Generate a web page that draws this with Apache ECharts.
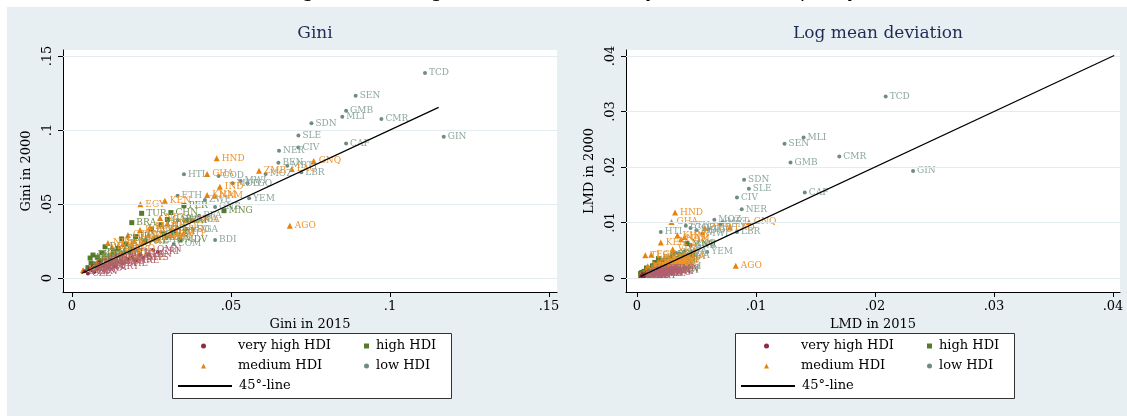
<!DOCTYPE html>
<html><head><meta charset="utf-8">
<script src="https://cdn.jsdelivr.net/npm/echarts@6/dist/echarts.min.js"></script>
<style>html,body{margin:0;padding:0;background:#fff}#c{width:1127px;height:416px}</style>
</head><body><div id="c"></div>
<script>
// ---------- tick labels ----------
const giniTicks = [0, 0.05, 0.1, 0.15];
const lmdTicks = [0, 0.01, 0.02, 0.03, 0.04];
const panelTitles = ['Gini', 'Log mean deviation'];
const xNames = ['Gini in 2015', 'LMD in 2015'];
const yNames = ['Gini in 2000', 'LMD in 2000'];
const groupNames = ['very high HDI', 'high HDI', 'medium HDI', 'low HDI'];
const lineName = '45\u00b0-line';

// ---------- Gini: [2015, 2000, code] ----------
const giniVeryHigh = [
[0.0040,0.0045,'SVK'],[0.0050,0.0030,'CZE'],[0.0060,0.0050,'SVN'],[0.0070,0.0040,'HRV'],
[0.0080,0.0060,'DEU'],[0.0090,0.0075,'FRA'],[0.0100,0.0085,'ESP'],[0.0110,0.0070,'ITA'],
[0.0125,0.0095,'USA'],[0.0135,0.0080,'URY'],[0.0150,0.0110,'ARG'],[0.0160,0.0100,'CHL'],
[0.0175,0.0125,'RUS'],[0.0190,0.0140,'SAU'],[0.0200,0.0120,'ARE'],[0.0215,0.0155,'KAZ'],
[0.0225,0.0135,'MYS'],[0.0240,0.0160,'PAN'],[0.0255,0.0190,'OMN'],[0.0270,0.0175,'CRI'],
[0.0065,0.0080,'POL'],[0.0085,0.0105,'HUN'],[0.0105,0.0120,'ROU'],[0.0120,0.0130,'BGR'],
[0.0140,0.0150,'GRC'],[0.0055,0.0065,'PRT'],[0.0180,0.0170,'LTU']];
const giniHigh = [
[0.0478,0.0455,'MNG'],[0.0352,0.0489,'PER'],[0.0219,0.0437,'TUR'],[0.0311,0.0442,'CHN'],
[0.0340,0.0257,'MDV'],[0.0188,0.0374,'BRA'],[0.0066,0.0155,'LKA'],[0.0057,0.0135,'ALB'],
[0.0104,0.0211,'DOM'],[0.0156,0.0264,'COL'],[0.0130,0.0180,'MEX'],[0.0250,0.0330,'ECU'],
[0.0280,0.0360,'THA'],[0.0200,0.0280,'IRN'],[0.0120,0.0150,'DZA'],[0.0090,0.0120,'TUN'],
[0.0075,0.0095,'JOR'],[0.0145,0.0200,'LBN'],[0.0170,0.0230,'GEO'],[0.0230,0.0250,'AZE'],
[0.0060,0.0100,'UKR'],[0.0050,0.0070,'BLR'],[0.0110,0.0110,'SRB'],[0.0160,0.0165,'MKD'],
[0.0290,0.0300,'VEN'],[0.0320,0.0310,'PRY'],[0.0265,0.0270,'BWA'],[0.0360,0.0390,'ZAF'],
[0.0300,0.0395,'GAB'],[0.0080,0.0140,'ARM'],[0.0095,0.0170,'JAM']];
const giniMedium = [
[0.0455,0.0809,'HND'],[0.0425,0.0703,'GHA'],[0.0588,0.0725,'ZMB'],[0.0691,0.0736,'LAO'],
[0.0760,0.0790,'GNQ'],[0.0465,0.0617,'IND'],[0.0425,0.0561,'KHM'],[0.0448,0.0556,'NAM'],
[0.0215,0.0498,'EGY'],[0.0292,0.0522,'KEN'],[0.0685,0.0353,'AGO'],[0.0176,0.0290,'GTM'],
[0.0214,0.0324,'BOL'],[0.0277,0.0405,'NIC'],[0.0300,0.0370,'SLV'],[0.0245,0.0345,'MAR'],
[0.0151,0.0169,'PAK'],[0.0208,0.0135,'SWZ'],[0.0126,0.0210,'BGD'],[0.0035,0.0054,'KGZ'],
[0.0113,0.0236,'NPL'],[0.0223,0.0243,'PHL'],[0.0308,0.0290,'IDN'],[0.0267,0.0270,'VNM'],
[0.0330,0.0345,'COG'],[0.0380,0.0395,'NGA'],[0.0160,0.0230,'TJK'],[0.0190,0.0200,'IRQ'],
[0.0240,0.0290,'MMR'],[0.0100,0.0150,'CPV'],[0.0140,0.0120,'SYR'],[0.0350,0.0300,'STP'],
[0.0080,0.0110,'BTN'],[0.0195,0.0250,'GUY']];
const giniLow = [
[0.1110,0.1385,'TCD'],[0.0892,0.1232,'SEN'],[0.0862,0.1130,'GMB'],[0.0850,0.1090,'MLI'],
[0.0973,0.1074,'CMR'],[0.0753,0.1045,'SDN'],[0.0712,0.0962,'SLE'],[0.1169,0.0955,'GIN'],
[0.0862,0.0908,'CAF'],[0.0712,0.0881,'CIV'],[0.0651,0.0860,'NER'],[0.0649,0.0779,'BEN'],
[0.0677,0.0759,'MRT'],[0.0721,0.0714,'LBR'],[0.0609,0.0703,'MOZ'],[0.0352,0.0701,'HTI'],
[0.0461,0.0689,'COD'],[0.0505,0.0640,'MDG'],[0.0552,0.0640,'TGO'],[0.0530,0.0655,'MWI'],
[0.0557,0.0539,'YEM'],[0.0332,0.0556,'ETH'],[0.0418,0.0527,'ZWE'],[0.0380,0.0329,'UGA'],
[0.0450,0.0257,'BDI'],[0.0333,0.0392,'SSD'],[0.0376,0.0392,'RWA'],[0.0255,0.0257,'TZA'],
[0.0298,0.0270,'AFG'],[0.0360,0.0330,'LSO'],[0.0280,0.0310,'PNG'],[0.0400,0.0420,'BFA'],
[0.0320,0.0230,'COM'],[0.0450,0.0480,'GNB']];
const giniLine = [[0.003,0.003],[0.1153,0.1153]];

// ---------- LMD: [2015, 2000, code] ----------
const lmdVeryHigh = [
[0.0003,0.0002,'SVK'],[0.0004,0.0003,'CZE'],[0.0005,0.0004,'SVN'],[0.0006,0.0002,'HRV'],
[0.0007,0.0005,'DEU'],[0.0008,0.0006,'FRA'],[0.0009,0.0007,'ESP'],[0.0010,0.0004,'ITA'],
[0.0012,0.0008,'USA'],[0.0013,0.0005,'URY'],[0.0015,0.0009,'ARG'],[0.0016,0.0007,'CHL'],
[0.0018,0.0010,'RUS'],[0.0020,0.0012,'SAU'],[0.0021,0.0008,'ARE'],[0.0023,0.0013,'KAZ'],
[0.0024,0.0010,'MYS'],[0.0026,0.0014,'PAN'],[0.0028,0.0016,'OMN'],[0.0030,0.0012,'CRI'],
[0.0005,0.0007,'POL'],[0.0008,0.0010,'HUN'],[0.0010,0.0012,'ROU'],[0.0012,0.0013,'BGR'],
[0.0014,0.0015,'GRC'],[0.0004,0.0005,'PRT'],[0.0019,0.0017,'LTU']];
const lmdHigh = [
[0.0042,0.0062,'MNG'],[0.0030,0.0042,'PER'],[0.0018,0.0035,'TUR'],[0.0027,0.0036,'CHN'],
[0.0030,0.0015,'MDV'],[0.0015,0.0028,'BRA'],[0.0004,0.0010,'LKA'],[0.0003,0.0008,'ALB'],
[0.0008,0.0018,'DOM'],[0.0013,0.0022,'COL'],[0.0011,0.0014,'MEX'],[0.0022,0.0027,'ECU'],
[0.0025,0.0031,'THA'],[0.0017,0.0024,'IRN'],[0.0010,0.0011,'DZA'],[0.0007,0.0009,'TUN'],
[0.0006,0.0007,'JOR'],[0.0012,0.0017,'LBN'],[0.0014,0.0019,'GEO'],[0.0020,0.0021,'AZE'],
[0.0005,0.0008,'UKR'],[0.0004,0.0005,'BLR'],[0.0009,0.0009,'SRB'],[0.0014,0.0013,'MKD'],
[0.0026,0.0025,'VEN'],[0.0029,0.0024,'PRY'],[0.0024,0.0020,'BWA'],[0.0034,0.0033,'ZAF'],
[0.0028,0.0033,'GAB'],[0.0006,0.0012,'ARM'],[0.0008,0.0014,'JAM']];
const lmdMedium = [
[0.0032,0.0118,'HND'],[0.0029,0.0101,'GHA'],[0.0057,0.0090,'ZMB'],[0.0078,0.0091,'LAO'],
[0.0094,0.0101,'GNQ'],[0.0040,0.0074,'IND'],[0.0034,0.0077,'KHM'],[0.0037,0.0070,'NAM'],
[0.0012,0.0042,'EGY'],[0.0020,0.0064,'KEN'],[0.0083,0.0022,'AGO'],[0.0014,0.0025,'GTM'],
[0.0018,0.0030,'BOL'],[0.0023,0.0037,'NIC'],[0.0026,0.0034,'SLV'],[0.0021,0.0031,'MAR'],
[0.0012,0.0015,'PAK'],[0.0016,0.0011,'SWZ'],[0.0010,0.0019,'BGD'],[0.0003,0.0005,'KGZ'],
[0.0009,0.0021,'NPL'],[0.0019,0.0022,'PHL'],[0.0027,0.0026,'IDN'],[0.0022,0.0024,'VNM'],
[0.0030,0.0031,'COG'],[0.0035,0.0038,'NGA'],[0.0013,0.0020,'TJK'],[0.0016,0.0018,'IRQ'],
[0.0020,0.0026,'MMR'],[0.0008,0.0013,'CPV'],[0.0011,0.0010,'SYR'],[0.0031,0.0027,'STP'],
[0.0006,0.0009,'BTN'],[0.0017,0.0023,'GUY'],[0.0007,0.0041,'TLS'],[0.0030,0.0052,'VUT']];
const lmdLow = [
[0.0209,0.0327,'TCD'],[0.0140,0.0253,'MLI'],[0.0124,0.0242,'SEN'],[0.0170,0.0219,'CMR'],
[0.0129,0.0208,'GMB'],[0.0232,0.0193,'GIN'],[0.0090,0.0177,'SDN'],[0.0094,0.0161,'SLE'],
[0.0141,0.0154,'CAF'],[0.0084,0.0145,'CIV'],[0.0088,0.0124,'NER'],[0.0065,0.0105,'MOZ'],
[0.0072,0.0101,'MRT'],[0.0070,0.0097,'BEN'],[0.0084,0.0083,'LBR'],[0.0020,0.0083,'HTI'],
[0.0041,0.0094,'ETH'],[0.0045,0.0090,'COD'],[0.0050,0.0086,'MDG'],[0.0060,0.0088,'TGO'],
[0.0055,0.0080,'MWI'],[0.0059,0.0047,'YEM'],[0.0045,0.0060,'ZWE'],[0.0040,0.0040,'UGA'],
[0.0034,0.0013,'BDI'],[0.0033,0.0045,'SSD'],[0.0036,0.0044,'RWA'],[0.0025,0.0025,'TZA'],
[0.0029,0.0029,'AFG'],[0.0034,0.0036,'LSO'],[0.0027,0.0034,'PNG'],[0.0040,0.0048,'BFA'],
[0.0031,0.0021,'COM'],[0.0045,0.0058,'GNB']];
const lmdLine = [[0.0003,0.0003],[0.0401,0.0401]];

// ---------- styling ----------
const SERIF = '"DejaVu Serif", serif';
const styles = {
  'very high HDI': {symbol:'circle', size:4, color:'#8c2d40', label:'#b0606e'},
  'high HDI':      {symbol:'rect', size:5, color:'#567a2c', label:'#6f8d48'},
  'medium HDI':    {symbol:'triangle', size:6, color:'#e8820e', label:'#f0942c'},
  'low HDI':       {symbol:'circle', size:4, color:'#6e8c82', label:'#8da79e'}
};
const fmt = v => v === 0 ? '0' : String(+v.toFixed(4)).replace(/^0/, '');

function scatter(name, data, idx) {
  const s = styles[name];
  return {
    name, type:'scatter', xAxisIndex:idx, yAxisIndex:idx, data,
    symbol:s.symbol, symbolSize:s.size, z:3, silent:true,
    itemStyle:{color:s.color, opacity:1},
    label:{show:true, position:'right', distance:2, formatter:p => p.value[2],
      fontFamily:SERIF, fontSize:9, color:s.label}
  };
}
function lineSeries(data, idx) {
  return {name:lineName, type:'line', xAxisIndex:idx, yAxisIndex:idx, data,
    symbol:'none', silent:true, z:6, lineStyle:{color:'#000', width:1.2}, itemStyle:{color:'#000'}};
}
function gridSeries(ticks, idx) {
  return {type:'line', xAxisIndex:idx, yAxisIndex:idx, data:[[0,0]], symbol:'none', silent:true, z:1,
    lineStyle:{opacity:0},
    markLine:{silent:true, symbol:['none','none'], label:{show:false}, animation:false,
      lineStyle:{color:'#e4ecef', width:1, type:'solid'}, data:ticks.map(v => ({yAxis:v}))}};
}
function xAxis(idx, min, max, ticks, name) {
  return {type:'value', gridIndex:idx, min, max, name, nameLocation:'middle', nameGap:24,
    nameTextStyle:{fontFamily:SERIF, fontSize:13, color:'#000'},
    axisLine:{show:true, onZero:false, lineStyle:{color:'#000', width:1}},
    axisTick:{show:true, customValues:ticks, length:5, lineStyle:{color:'#000'}},
    axisLabel:{customValues:ticks, formatter:fmt, fontFamily:SERIF, fontSize:13, color:'#000', margin:8},
    splitLine:{show:false}};
}
function yAxis(idx, min, max, ticks, name) {
  return {type:'value', gridIndex:idx, min, max, name, nameLocation:'middle', nameGap:30,
    nameTextStyle:{fontFamily:SERIF, fontSize:13, color:'#000'},
    axisLine:{show:true, onZero:false, lineStyle:{color:'#000', width:1}},
    axisTick:{show:true, customValues:ticks, length:5, lineStyle:{color:'#000'}},
    axisLabel:{customValues:ticks, formatter:fmt, rotate:90, fontFamily:SERIF, fontSize:13, color:'#000', margin:9},
    splitLine:{show:false}};
}
function legends(offset) {
  const common = {orient:'vertical', top:339, itemGap:6, selectedMode:false, z:10, padding:0,
    itemWidth:5, itemHeight:5,
    textStyle:{fontFamily:SERIF, fontSize:13, color:'#000', lineHeight:14}};
  return [
    Object.assign({}, common, {left:201+offset, data:['very high HDI','medium HDI'],
      textStyle:Object.assign({}, common.textStyle, {padding:[0,0,0,27]})}),
    Object.assign({}, common, {left:364+offset, data:['high HDI','low HDI'],
      textStyle:Object.assign({}, common.textStyle, {padding:[0,0,0,2]})}),
    Object.assign({}, common, {left:177+offset, top:379, itemWidth:54, itemHeight:4, data:[lineName],
      itemStyle:{color:'rgba(0,0,0,0)', borderWidth:0},
      textStyle:Object.assign({}, common.textStyle, {padding:[0,0,0,2]})})
  ];
}

const chart = echarts.init(document.getElementById('c'), null, {renderer:'canvas'});
chart.setOption({
  animation:false,
  backgroundColor:'#e8eff2',
  title:[
    {text:panelTitles[0], left:310, top:20, textAlign:'center', textStyle:{fontFamily:SERIF, fontSize:17, fontWeight:'normal', color:'#1f2d56'}},
    {text:panelTitles[1], left:873, top:20, textAlign:'center', textStyle:{fontFamily:SERIF, fontSize:17, fontWeight:'normal', color:'#1f2d56'}}
  ],
  graphic:[
    {type:'rect', shape:{x:0,y:0,width:1127,height:7}, style:{fill:'#fff'}, z:0, silent:true},
    {type:'rect', shape:{x:0,y:0,width:7,height:416}, style:{fill:'#fff'}, z:0, silent:true},
    {type:'text', x:568, y:2, style:{text:'Regional convergence of within-country and mean inequality', fill:'#000',
      font:'19px "DejaVu Sans"', align:'center', verticalAlign:'bottom'}, z:1, silent:true},
    {type:'rect', shape:{x:172.5,y:333.5,width:279,height:65}, style:{fill:'#fff', stroke:'#333', lineWidth:1}, z:1, silent:true},
    {type:'rect', shape:{x:735.5,y:333.5,width:279,height:65}, style:{fill:'#fff', stroke:'#333', lineWidth:1}, z:1, silent:true}
  ],
  legend: legends(0).concat(legends(563)),
  grid:[
    {left:63, top:50, width:494, height:242, show:true, backgroundColor:'#fff', borderWidth:0},
    {left:626, top:50, width:494, height:242, show:true, backgroundColor:'#fff', borderWidth:0}
  ],
  xAxis:[xAxis(0,-0.00283,0.15252,giniTicks,xNames[0]), xAxis(1,-0.000924,0.04059,lmdTicks,xNames[1])],
  yAxis:[yAxis(0,-0.00946,0.15405,giniTicks,yNames[0]), yAxis(1,-0.002523,0.04108,lmdTicks,yNames[1])],
  series:[
    gridSeries(giniTicks,0), gridSeries(lmdTicks,1),
    scatter('low HDI', giniLow, 0), scatter('high HDI', giniHigh, 0),
    scatter('medium HDI', giniMedium, 0), scatter('very high HDI', giniVeryHigh, 0),
    lineSeries(giniLine, 0),
    scatter('low HDI', lmdLow, 1), scatter('high HDI', lmdHigh, 1),
    scatter('medium HDI', lmdMedium, 1), scatter('very high HDI', lmdVeryHigh, 1),
    lineSeries(lmdLine, 1)
  ]
});
</script></body></html>
